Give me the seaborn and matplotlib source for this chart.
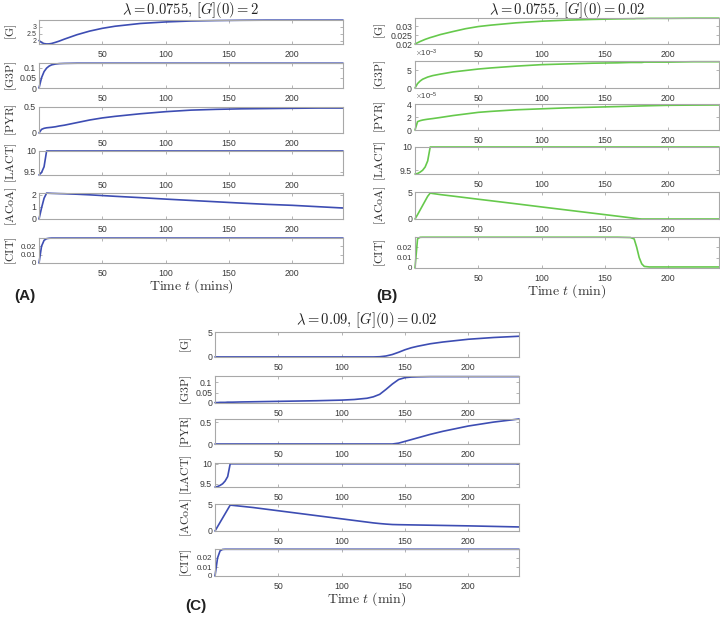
import seaborn as sns
import matplotlib.pyplot as plt
import matplotlib.ticker as mticker
import numpy as np
import pandas as pd

# species shown in every panel (top to bottom)
species = ['G', 'G3P', 'PYR', 'LACT', 'ACoA', 'CIT']

# (A) lambda = 0.0755, [G](0) = 2
time_a = [0, 2, 4, 6, 8, 10, 13, 16, 20, 30, 40, 50, 60, 80, 100, 120, 140, 160, 180, 200, 220, 240]
g_a = [2.0, 1.86, 1.78, 1.755, 1.76, 1.79, 1.87, 1.96, 2.1, 2.42, 2.68, 2.88, 3.03, 3.23, 3.34, 3.41, 3.44, 3.46, 3.47, 3.47, 3.47, 3.47]
g3p_a = [0, 0.05, 0.08, 0.097, 0.107, 0.113, 0.117, 0.119, 0.12] + [0.121] * 13
pyr_a = [0, 0.07, 0.09, 0.1, 0.105, 0.11, 0.12, 0.135, 0.15, 0.2, 0.25, 0.29, 0.32, 0.37, 0.41, 0.44, 0.455, 0.465, 0.47, 0.475, 0.48, 0.48]
lact_a = [9.42, 9.48, 9.62] + [10.0] * 19
acoa_a = [0, 0.9, 1.7, 2.12, 2.11, 2.1, 2.09, 2.08, 2.07, 2.03, 1.98, 1.92, 1.86, 1.75, 1.63, 1.52, 1.41, 1.3, 1.2, 1.12, 1.01, 0.9]
cit_a = [0, 0.02, 0.027, 0.029, 0.0295] + [0.0297] * 17

# (B) lambda = 0.0755, [G](0) = 0.02
time_b = [0, 2, 4, 6, 8, 10, 12, 14, 20, 30, 40, 50, 60, 80, 100, 120, 140, 160, 170, 173, 175, 177, 179, 181, 185, 200, 220, 240]
g_b = [0.02, 0.0207, 0.0214, 0.022, 0.0226, 0.0231, 0.0236, 0.024, 0.0253, 0.027, 0.0286, 0.0298, 0.0306, 0.0319,
       0.0328, 0.0334, 0.0338, 0.0341, 0.0342, 0.0342, 0.0343, 0.0343, 0.0343, 0.0343, 0.0344, 0.0344, 0.0345, 0.0345]
g3p_b = [0, 0.0012, 0.0019, 0.0024, 0.0027, 0.003, 0.0032, 0.0034, 0.0038, 0.0044, 0.0048, 0.0052, 0.0055, 0.006,
         0.0064, 0.0066, 0.0068, 0.0069, 0.007, 0.007, 0.007, 0.007, 0.007, 0.0071, 0.0071, 0.0071, 0.0072, 0.0072]
pyr_b = [0, 1.3e-5, 1.45e-5, 1.55e-5, 1.62e-5, 1.68e-5, 1.73e-5, 1.78e-5, 1.95e-5, 2.25e-5, 2.5e-5, 2.75e-5, 2.9e-5,
         3.15e-5, 3.3e-5, 3.45e-5, 3.55e-5, 3.65e-5, 3.7e-5, 3.72e-5, 3.73e-5, 3.74e-5, 3.75e-5, 3.76e-5, 3.78e-5,
         3.85e-5, 3.88e-5, 3.9e-5]
lact_b = [9.42, 9.43, 9.46, 9.5, 9.57, 9.7] + [10.0] * 22
acoa_b = [0, 0.8, 1.65, 2.5, 3.35, 4.2, 4.8, 4.72, 4.52, 4.24, 3.95, 3.66, 3.38, 2.81, 2.23, 1.66, 1.09, 0.52,
          0.23, 0.14, 0.09, 0.03, 0, 0, 0, 0, 0, 0]
cit_b = [0, 0.028, 0.0295] + [0.0296] * 15 + [0.0293, 0.028, 0.02, 0.01, 0.004, 0.0015, 0.001, 0.001, 0.001, 0.001]

# (C) lambda = 0.09, [G](0) = 0.02
time_c = [0, 2, 4, 6, 8, 10, 12, 14, 20, 30, 40, 50, 60, 80, 100, 110, 120, 125, 130, 135, 140, 145, 150, 155, 160,
          170, 180, 200, 220, 240]
g_c = [0.02, 0.015, 0.01] + [0.01] * 15 + [0.05, 0.2, 0.5, 0.95, 1.45, 1.85, 2.15, 2.65, 3.0, 3.55, 3.9, 4.15]
g3p_c = [0.002, 0.002, 0.003, 0.003, 0.003, 0.004, 0.004, 0.004, 0.005, 0.006, 0.007, 0.008, 0.009, 0.011, 0.014,
         0.017, 0.023, 0.03, 0.042, 0.066, 0.092, 0.114, 0.123, 0.126, 0.127, 0.128, 0.128, 0.128, 0.128, 0.128]
pyr_c = [0] * 21 + [0.02, 0.06, 0.1, 0.14, 0.22, 0.29, 0.41, 0.5, 0.57]
lact_c = [9.42, 9.43, 9.46, 9.5, 9.57, 9.68] + [10.0] * 24
acoa_c = [0, 0.8, 1.6, 2.4, 3.2, 4.0, 4.8, 4.75, 4.6, 4.35, 4.05, 3.75, 3.45, 2.85, 2.25, 1.95, 1.65, 1.5, 1.38,
          1.28, 1.2, 1.17, 1.15, 1.13, 1.11, 1.07, 1.03, 0.95, 0.85, 0.75]
cit_c = [0, 0.02, 0.028, 0.0295] + [0.0297] * 26

x_ticks = [50, 100, 150, 200]

sns.set_theme(style='white')
plt.rcParams['mathtext.fontset'] = 'cm'
plt.rcParams['font.family'] = ['Liberation Sans', 'DejaVu Sans']

W, H = 720, 617
fig = plt.figure(figsize=(W / 100, H / 100), dpi=100)

blue = '#3d4db3'
green = '#66c94c'
edge = '#a8a8a8'

panels = [
    dict(time=time_a, series=[g_a, g3p_a, pyr_a, lact_a, acoa_a, cit_a], color=blue,
         x0=39, x1=343, rows=[(20, 44), (63, 88), (107, 133), (151, 175), (193, 219), (238, 263)],
         ylims=[(1.75, 3.48), (0, 0.122), (0, 0.5), (9.42, 10.0), (0, 2.13), (0, 0.0298)],
         yticks=[[2, 2.5, 3], [0, 0.05, 0.1], [0, 0.5], [9.5, 10], [0, 1, 2], [0, 0.01, 0.02]],
         title=r'$\lambda = 0.0755,\, [G](0) = 2$', title_y=10,
         xlabel=r'$\mathrm{Time}\ t\ \mathrm{(mins)}$', xlabel_y=286,
         tag='(A)', tag_x=14, tag_y=296, label_x=-0.066),
    dict(time=time_b, series=[g_b, g3p_b, pyr_b, lact_b, acoa_b, cit_b], color=green,
         x0=415, x1=719, rows=[(18, 44), (61, 88), (104, 130), (147, 174), (192, 219), (237, 268)],
         ylims=[(0.02, 0.0346), (0, 0.0074), (0, 4.05e-5), (9.42, 10.0), (0, 5), (0, 0.0298)],
         yticks=[[0.02, 0.025, 0.03], [0, 0.005], [0, 2e-5, 4e-5], [9.5, 10], [0, 5], [0, 0.01, 0.02]],
         title=r'$\lambda = 0.0755,\, [G](0) = 0.02$', title_y=10,
         xlabel=r'$\mathrm{Time}\ t\ \mathrm{(min)}$', xlabel_y=291,
         tag='(B)', tag_x=376, tag_y=296, label_x=-0.09),
    dict(time=time_c, series=[g_c, g3p_c, pyr_c, lact_c, acoa_c, cit_c], color=blue,
         x0=215, x1=519, rows=[(332, 357), (376, 403), (419, 444), (463, 487), (504, 531), (549, 576)],
         ylims=[(0, 5), (0, 0.131), (0, 0.57), (9.42, 10.02), (0, 5), (0, 0.03)],
         yticks=[[0, 5], [0, 0.05, 0.1], [0, 0.5], [9.5, 10], [0, 5], [0, 0.01, 0.02]],
         title=r'$\lambda = 0.09,\, [G](0) = 0.02$', title_y=320,
         xlabel=r'$\mathrm{Time}\ t\ \mathrm{(min)}$', xlabel_y=599,
         tag='(C)', tag_x=185, tag_y=606, label_x=-0.068),
]

plain = mticker.FuncFormatter(lambda v, p: '%g' % v)

for pn in panels:
    df = pd.DataFrame({'t': pn['time']})
    for name, vals in zip(species, pn['series']):
        df[name] = vals
    for i, name in enumerate(species):
        top, bot = pn['rows'][i]
        ax = fig.add_axes([pn['x0'] / W, 1 - bot / H, (pn['x1'] - pn['x0']) / W, (bot - top) / H])
        sns.lineplot(data=df, x='t', y=name, ax=ax, color=pn['color'], linewidth=1.2, clip_on=False)
        ax.set_xlim(0, 240)
        ax.set_ylim(*pn['ylims'][i])
        ax.set_xticks(x_ticks)
        ax.set_yticks(pn['yticks'][i])
        if pn['ylims'][i][1] < 0.01:
            fmt = mticker.ScalarFormatter(useMathText=True)
            fmt.set_powerlimits((-2, 2))
            ax.yaxis.set_major_formatter(fmt)
            ax.yaxis.get_offset_text().set_fontsize(5.5)
            ax.yaxis.get_offset_text().set_color('#444444')
        else:
            ax.yaxis.set_major_formatter(plain)
        ax.set_xlabel('')
        ax.set_ylabel(r'$[\mathrm{%s}]$' % name, fontsize=8.5, color='#333333')
        ax.yaxis.set_label_coords(pn['label_x'], 0.5)
        for sp in ax.spines.values():
            sp.set_color(edge)
            sp.set_linewidth(0.8)
        ax.tick_params(direction='in', length=2, width=0.6, color=edge, labelsize=6.3,
                       labelcolor='#3a3a3a', top=True, right=True, left=True, bottom=True)
        ax.tick_params(axis='x', pad=4)
        ax.tick_params(axis='y', pad=2)
        # crowded tick labels on the short [G] axis of panel A
        if len(pn['yticks'][i]) == 3 and pn['yticks'][i][1] == 2.5:
            ax.tick_params(axis='y', labelsize=5)
        # narrow gap between label and ticks on the [CIT] axes
        if name == 'CIT':
            ax.tick_params(axis='y', labelsize=5.8)

    xc = (pn['x0'] + pn['x1']) / 2 / W
    fig.text(xc, 1 - pn['title_y'] / H, pn['title'], ha='center', va='center', fontsize=10.5, color='#222222')
    fig.text(xc, 1 - pn['xlabel_y'] / H, pn['xlabel'], ha='center', va='center', fontsize=10, color='#333333')
    fig.text(pn['tag_x'] / W, 1 - pn['tag_y'] / H, pn['tag'], ha='left', va='center', fontsize=11,
             fontweight='bold', color='#222222')

plt.savefig('out.png', dpi=100)
